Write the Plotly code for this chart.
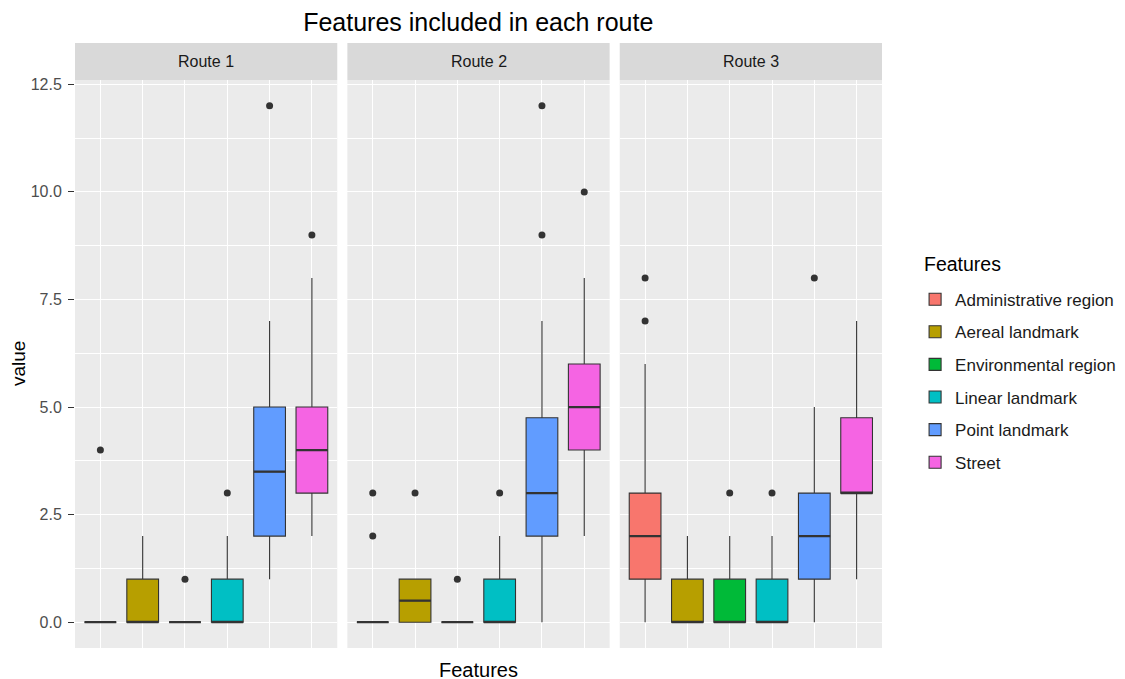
import plotly.graph_objects as go
from plotly.subplots import make_subplots

features = ["Administrative region", "Aereal landmark", "Environmental region",
            "Linear landmark", "Point landmark", "Street"]
colors = ["#F8766D", "#B79F00", "#00BA38", "#00BFC4", "#619CFF", "#F564E3"]
routes = ["Route 1", "Route 2", "Route 3"]

# per route: q1, median, q3, lower whisker, upper whisker, outliers
r1_q1 = [0, 0, 0, 0, 2, 3]
r1_med = [0, 0, 0, 0, 3.5, 4]
r1_q3 = [0, 1, 0, 1, 5, 5]
r1_lo = [0, 0, 0, 0, 1, 2]
r1_hi = [0, 2, 0, 2, 7, 8]
r1_out = [[4], [], [1], [3], [12], [9]]

r2_q1 = [0, 0, 0, 0, 2, 4]
r2_med = [0, 0.5, 0, 0, 3, 5]
r2_q3 = [0, 1, 0, 1, 4.75, 6]
r2_lo = [0, 0, 0, 0, 0, 2]
r2_hi = [0, 1, 0, 2, 7, 8]
r2_out = [[2, 3], [3], [1], [3], [9, 12], [10]]

r3_q1 = [1, 0, 0, 0, 1, 3]
r3_med = [2, 0, 0, 0, 2, 3]
r3_q3 = [3, 1, 1, 1, 3, 4.75]
r3_lo = [0, 0, 0, 0, 0, 1]
r3_hi = [6, 2, 2, 2, 5, 7]
r3_out = [[7, 8], [], [3], [3], [8], []]

stats = [
    (r1_q1, r1_med, r1_q3, r1_lo, r1_hi, r1_out),
    (r2_q1, r2_med, r2_q3, r2_lo, r2_hi, r2_out),
    (r3_q1, r3_med, r3_q3, r3_lo, r3_hi, r3_out),
]

FONT = "Liberation Sans, Arial, sans-serif"
fig = make_subplots(rows=1, cols=3, shared_yaxes=True, horizontal_spacing=0.0125)
domains = [[0, 0.325], [0.3375, 0.6625], [0.675, 1.0]]

for c, (q1, med, q3, lo, hi, outs) in enumerate(stats, start=1):
    for i, f in enumerate(features):
        fig.add_trace(go.Box(
            x=[f], q1=[q1[i]], median=[med[i]], q3=[q3[i]],
            lowerfence=[lo[i]], upperfence=[hi[i]],
            name=f, legendgroup=f, showlegend=(c == 1),
            fillcolor=colors[i], line=dict(color="#333333", width=1.1),
            width=0.75, whiskerwidth=0, boxpoints=False,
        ), row=1, col=c)
        # thicker median line (ggplot fatten)
        fig.add_trace(go.Box(
            x=[f], q1=[med[i]], median=[med[i]], q3=[med[i]],
            lowerfence=[med[i]], upperfence=[med[i]],
            name=f, legendgroup=f, showlegend=False,
            fillcolor="rgba(0,0,0,0)", line=dict(color="#333333", width=2.2),
            width=0.75, whiskerwidth=0, boxpoints=False, hoverinfo="skip",
        ), row=1, col=c)
        if outs[i]:
            fig.add_trace(go.Scatter(
                x=[f] * len(outs[i]), y=outs[i], mode="markers",
                marker=dict(color="#333333", size=7),
                showlegend=False, legendgroup=f,
            ), row=1, col=c)

for c in range(1, 4):
    fig.update_xaxes(
        domain=domains[c - 1], type="category", categoryorder="array",
        categoryarray=features, range=[-0.6, 5.6], showticklabels=False,
        ticks="", showgrid=True, gridcolor="white", gridwidth=1.1,
        zeroline=False, showline=False, automargin=False, row=1, col=c,
    )
    ax = "x domain" if c == 1 else f"x{c} domain"
    fig.add_shape(type="rect", xref=ax, yref="paper", x0=0, x1=1, y0=1.0,
                  y1=1.065, fillcolor="#D9D9D9", line=dict(width=0), layer="below")
    fig.add_annotation(text=routes[c - 1], xref=ax, yref="paper", x=0.5, y=1.0325,
                       xanchor="center", yanchor="middle",
                       showarrow=False, font=dict(family=FONT, size=16, color="#1A1A1A"))

fig.update_yaxes(
    range=[-0.6, 12.6], tickvals=[0, 2.5, 5, 7.5, 10, 12.5],
    ticktext=["0.0", "2.5", "5.0", "7.5", "10.0", "12.5"],
    ticks="", tickcolor="#333333", automargin=False,
    tickfont=dict(family=FONT, size=16, color="#4D4D4D"),
    showgrid=True, gridcolor="white", gridwidth=1.1, zeroline=False, showline=False,
    minor=dict(dtick=1.25, tick0=1.25, showgrid=True, gridcolor="white", gridwidth=0.5, ticks=""),
)
fig.update_layout(yaxis=dict(
    ticks="outside", ticklen=6, tickwidth=1.2, tickcolor="#333333", ticklabelstandoff=3,
))

# axis titles and legend title as text labels
fig.add_annotation(text="value", xref="paper", yref="paper", x=-0.0706, y=0.5,
                   xanchor="center", yanchor="middle", textangle=-90, showarrow=False,
                   font=dict(family=FONT, size=19, color="#000000"))
fig.add_annotation(text="Features", xref="x2 domain", yref="paper", x=0.5, y=-0.0387,
                   xanchor="center", yanchor="middle", showarrow=False,
                   font=dict(family=FONT, size=20, color="#000000"))
fig.add_annotation(text="Features", xref="paper", yref="paper", x=1.0495, y=0.676,
                   xanchor="left", yanchor="middle", showarrow=False,
                   font=dict(family=FONT, size=19.5, color="#000000"))

fig.update_layout(
    width=1125, height=679,
    margin=dict(l=67, r=251, t=72, b=39),
    paper_bgcolor="white", plot_bgcolor="#EBEBEB",
    boxmode="overlay",
    font=dict(family=FONT),
    title=dict(text="Features included in each route", x=0.418, xanchor="center",
               y=0.979, yanchor="middle",
               font=dict(family=FONT, size=25, color="#000000")),
    legend=dict(
        font=dict(family=FONT, size=17, color="#1A1A1A"),
        x=1.041, y=0.645, xanchor="left", yanchor="top",
        tracegroupgap=7.5, bgcolor="rgba(0,0,0,0)",
    ),
    showlegend=True,
)

fig.write_html("out.html")
